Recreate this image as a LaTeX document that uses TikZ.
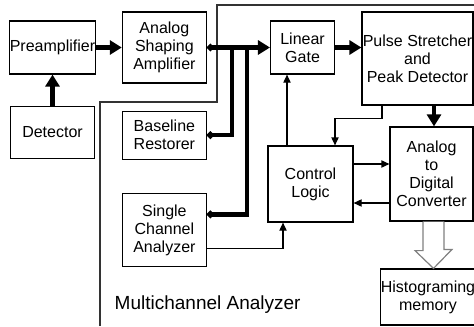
\documentclass[tikz,border=0pt]{standalone}
\usepackage{fontspec}
\setmainfont{Liberation Sans}
\usetikzlibrary{arrows.meta, positioning, calc}
\tikzstyle{block} = [draw, rectangle, line width=0.6pt, align=center, inner sep=0pt]
\tikzstyle{bus} = [line width=2.2pt, -{Triangle[length=6pt, width=7pt]}]
\tikzstyle{dotbus} = [bus, {Circle[length=3.4pt]}-{Triangle[length=6pt, width=7pt]}]
\tikzstyle{wire} = [line width=2.2pt, {Circle[length=3.4pt]}-]
\tikzstyle{sig} = [line width=0.6pt, -{Triangle[length=4pt, width=3.6pt]}]
\tikzstyle{hollow} = [draw=gray, line width=0.6pt, fill=white, line join=miter]
\tikzstyle{frame} = [draw=black!80, line width=0.6pt]

\begin{document}
\begin{tikzpicture}[x=0.5pt, y=-0.5pt]
    \fontsize{8pt}{9pt}\selectfont
    \useasboundingbox (0,0) rectangle (474,326);

    % Place the blocks
    \node [block, minimum width=42.5pt, minimum height=26.5pt] (pre) at (52.5,47.5) {Preamplifier};
    \node [block, minimum width=42pt, minimum height=26pt, below=15.5pt of pre] (det) {Detector};
    \node [block, minimum width=42pt, minimum height=35.5pt, right=13pt of pre] (asa) {Analog\\Shaping\\Amplifier};
    \node [block, minimum width=42pt, minimum height=24pt, below=13.5pt of asa] (blr) {Baseline\\Restorer};
    \node [block, minimum width=42pt, minimum height=36.5pt, below=16.5pt of blr] (sca) {Single\\Channel\\Analyzer};
    \node [block, minimum width=32pt, minimum height=26.5pt, right=31.5pt of asa] (lg) {Linear\\Gate};
    \node [block, minimum width=55.5pt, minimum height=46.5pt] (psd) at (417.5,58.5) {Pulse Stretcher\\and\\Peak Detector};
    \node [block, minimum width=42.5pt, minimum height=38pt] (cl) at (310.5,184) {Control\\Logic};
    \node [block, minimum width=41.5pt, minimum height=47pt] (adc) at (431.5,174) {Analog\\to\\Digital\\Converter};
    \node [block, minimum width=45pt, minimum height=28pt] (hist) at (428,297) {Histograming\\memory};
    \node [right, font=\fontsize{9.5pt}{11pt}\selectfont] (mca) at (109,305) {Multichannel Analyzer};

    % Frame of the analyzer
    \draw [frame] (100,326) |- (217,102) |- (474,5);

    % Connect the nodes
    \path (asa.east) -- (lg.west) coordinate[pos=0.397] (j1) coordinate[pos=0.635] (j2);
    \coordinate (hs) at ([xshift=1pt]adc.south);
    \draw [bus] (det) -- (pre);
    \draw [bus] (pre) -- (asa);
    \draw [dotbus] (asa) -- (lg);
    \draw [wire] (blr.east) -| (j1);
    \draw [wire] ([yshift=7.75pt]sca.east) -| (j2);
    \draw [sig] ([yshift=-9.25pt]sca.east) -| ([xshift=-13.75pt]cl.south);
    \draw [sig] ([xshift=-11.75pt]cl.north) -- ([xshift=-11.75pt]cl.north |- lg.south);
    \draw [bus] (lg) -- (psd.west |- lg.east);
    \draw [sig] ([xshift=-17.75pt]psd.south) -- ++(0,13) -| ([xshift=12.25pt]cl.north);
    \draw [bus] ([xshift=1.25pt]adc.north |- psd.south) -- ([xshift=1.25pt]adc.north);
    \draw [sig] ([yshift=10pt]cl.east) -- ([yshift=10pt]cl.east -| adc.west);
    \draw [sig] ([yshift=-9.5pt]cl.east -| adc.west) -- ([yshift=-9.5pt]cl.east);
    \draw [hollow] ($(hs)+(-10.5,0)$) -- ++(0,29) -- ++(-8,0) -- (hs |- hist.north)
        -- ++(18.5,-19) -- ++(-8,0) -- ($(hs)+(10.5,0)$);
\end{tikzpicture}
\end{document}
